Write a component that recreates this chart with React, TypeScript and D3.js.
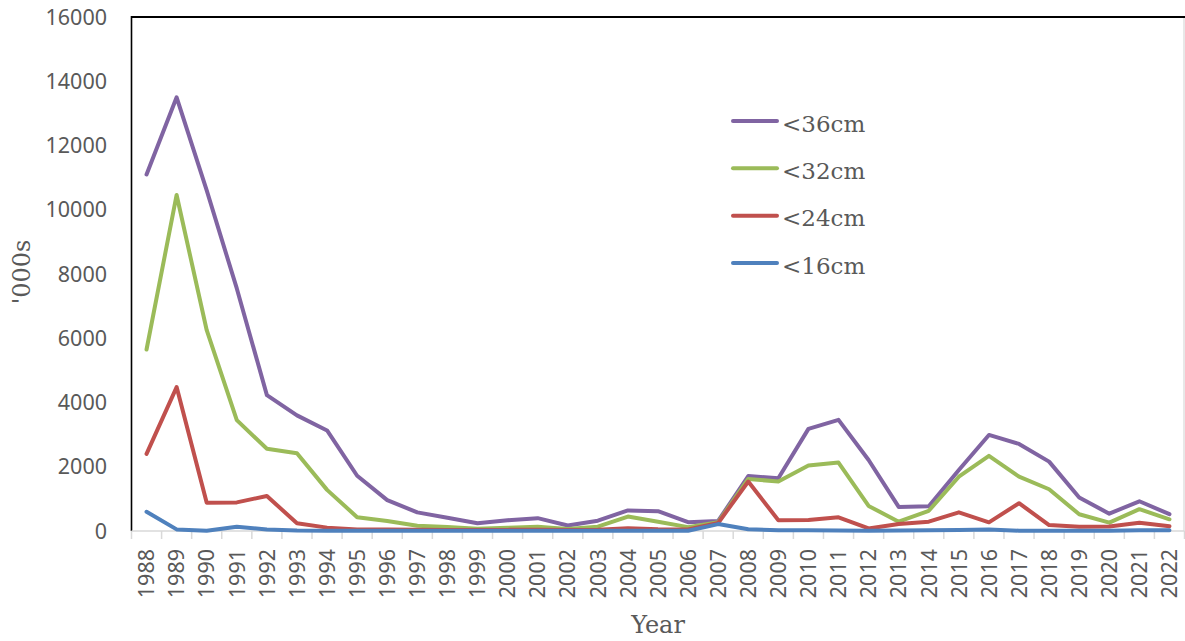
import React from "react";
import * as d3 from "d3";

const years = [
  "1988","1989","1990","1991","1992","1993","1994","1995","1996","1997","1998","1999",
  "2000","2001","2002","2003","2004","2005","2006","2007","2008","2009","2010","2011",
  "2012","2013","2014","2015","2016","2017","2018","2019","2020","2021","2022",
];

const s36 = [11100, 13500, 10600, 7550, 4230, 3600, 3130, 1720, 960, 580, 410, 240, 333, 400, 170, 320, 640, 615, 275, 315, 1710, 1640, 3180, 3460, 2210, 750, 770, 1900, 2990, 2710, 2160, 1040, 540, 925, 525];
const s32 = [5650, 10460, 6250, 3450, 2560, 2420, 1280, 430, 310, 165, 125, 72, 100, 135, 60, 135, 450, 290, 120, 275, 1620, 1540, 2040, 2130, 780, 290, 630, 1690, 2340, 1690, 1300, 520, 260, 680, 365];
const s24 = [2400, 4480, 880, 890, 1090, 240, 105, 50, 45, 40, 35, 30, 35, 40, 35, 40, 85, 55, 50, 250, 1540, 335, 340, 425, 80, 215, 290, 580, 270, 865, 185, 135, 140, 260, 150];
const s16 = [600, 50, 10, 130, 50, 15, 10, 5, 5, 5, 5, 5, 5, 5, 5, 5, 5, 5, 10, 215, 55, 25, 20, 15, 10, 15, 20, 30, 50, 10, 10, 10, 10, 20, 25];

const seriesNames = ["<36cm", "<32cm", "<24cm", "<16cm"];
const seriesColors = ["#8064A2", "#9BBB59", "#C0504D", "#4F81BD"];
const seriesValues = [s36, s32, s24, s16];

const yTicks = [0, 2000, 4000, 6000, 8000, 10000, 12000, 14000, 16000];

const W = 1185;
const H = 641;
const left = 131.5;
const right = 1184.5;
const top = 17;
const bottom = 531;

export default function App() {
  const x = d3.scaleBand<string>().domain(years).range([left, right]).padding(0);
  const y = d3.scaleLinear().domain([0, 16000]).range([bottom, top]);
  const bw = x.bandwidth();
  const cx = (yr: string) => (x(yr) as number) + bw / 2;

  const line = d3
    .line<number>()
    .x((_, i) => cx(years[i]))
    .y((v) => y(v));

  const boundaries = years.map((yr) => x(yr) as number).concat([right]);

  const legendX0 = 733;
  const legendX1 = 777;
  const legendY = d3.scalePoint<string>().domain(seriesNames).range([121, 263]);

  return (
    <svg
      width={W}
      height={H}
      style={{ position: "absolute", left: 0, top: 0, background: "#fff" }}
    >
      <rect x={0} y={0} width={W} height={H} fill="#fff" />
      {/* frame */}
      <line x1={left} y1={top} x2={W} y2={top} stroke="#000" strokeWidth={2} />
      <line x1={left} y1={top - 1} x2={left} y2={bottom} stroke="#000" strokeWidth={1.6} />
      <line x1={right - 0.5} y1={top + 1} x2={right - 0.5} y2={bottom} stroke="#d9d9d9" strokeWidth={1.2} />
      {/* x axis */}
      <line x1={left} y1={bottom} x2={right} y2={bottom} stroke="#d9d9d9" strokeWidth={1.5} />
      {boundaries.map((bx, i) => (
        <line key={i} x1={bx} y1={bottom} x2={bx} y2={bottom + 8} stroke="#d9d9d9" strokeWidth={1.5} />
      ))}
      {years.map((yr) => (
        <text
          key={yr}
          transform={`translate(${cx(yr)},549) rotate(-90)`}
          textAnchor="end"
          dy="0.36em"
          fontFamily="'Noto Sans', sans-serif"
          fontSize={21.5}
          fill="#595959"
        >
          {yr}
        </text>
      ))}
      {/* y axis labels */}
      {yTicks.map((t) => (
        <text
          key={t}
          x={107}
          y={y(t)}
          dy="0.36em"
          textAnchor="end"
          fontFamily="'Noto Sans', sans-serif"
          fontSize={21.5}
          fill="#595959"
        >
          {t}
        </text>
      ))}
      {/* titles */}
      <text
        transform="translate(30,272) rotate(-90)"
        textAnchor="middle"
        fontFamily="'DejaVu Serif', serif"
        fontSize={24}
        fill="#595959"
      >
        '000s
      </text>
      <text
        x={658}
        y={633}
        textAnchor="middle"
        fontFamily="'DejaVu Serif', serif"
        fontSize={24}
        fill="#595959"
      >
        Year
      </text>
      {/* series */}
      {seriesValues.map((vals, i) => (
        <path
          key={seriesNames[i]}
          d={line(vals) as string}
          fill="none"
          stroke={seriesColors[i]}
          strokeWidth={4}
          strokeLinejoin="round"
          strokeLinecap="round"
        />
      ))}
      {/* legend */}
      {seriesNames.map((n, i) => {
        const ly = legendY(n) as number;
        return (
          <g key={n}>
            <line x1={legendX0} y1={ly} x2={legendX1} y2={ly} stroke={seriesColors[i]} strokeWidth={4} strokeLinecap="round" />
            <text
              x={782}
              y={ly + 10.5}
              fontFamily="'DejaVu Serif', serif"
              fontSize={23}
              fill="#595959"
            >
              {n}
            </text>
          </g>
        );
      })}
    </svg>
  );
}
